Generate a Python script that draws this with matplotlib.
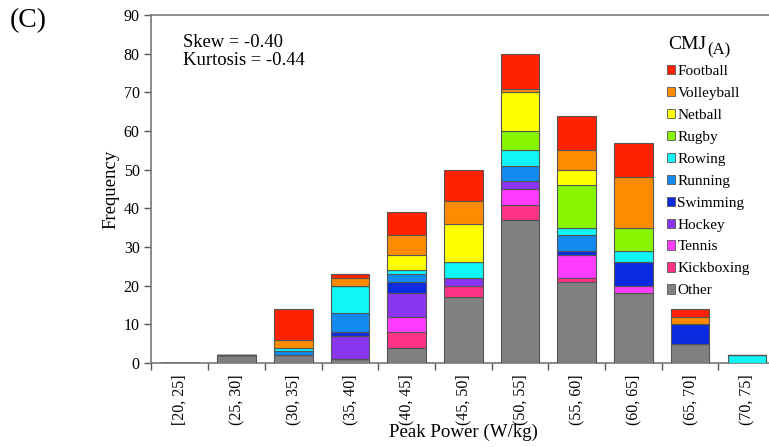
import matplotlib
matplotlib.use("Agg")
import matplotlib.pyplot as plt
import numpy as np
from matplotlib.patches import Patch

plt.rcParams['font.family'] = ['Liberation Serif', 'DejaVu Serif']

bins = ["[20, 25]", "(25, 30]", "(30, 35]", "(35, 40]", "(40, 45]", "(45, 50]",
        "(50, 55]", "(55, 60]", "(60, 65]", "(65, 70]", "(70, 75]"]

# Stacking order: bottom to top
sports = ["Other", "Kickboxing", "Tennis", "Hockey", "Swimming", "Running",
          "Rowing", "Rugby", "Netball", "Volleyball", "Football"]

other      = [0, 2, 2, 1, 4, 17, 37, 21, 18, 5, 0]
kickboxing = [0, 0, 0, 0, 4, 3, 4, 1, 0, 0, 0]
tennis     = [0, 0, 0, 0, 4, 0, 4, 6, 2, 0, 0]
hockey     = [0, 0, 0, 6, 6, 2, 2, 0, 0, 0, 0]
swimming   = [0, 0, 0, 1, 3, 0, 0, 1, 6, 5, 0]
running    = [0, 0, 1, 5, 2, 0, 4, 4, 0, 0, 0]
rowing     = [0, 0, 1, 7, 1, 4, 4, 2, 3, 0, 2]
rugby      = [0, 0, 0, 0, 0, 0, 5, 11, 6, 0, 0]
netball    = [0, 0, 0, 0, 4, 10, 10, 4, 0, 0, 0]
volleyball = [0, 0, 2, 2, 5, 6, 1, 5, 13, 2, 0]
football   = [0, 0, 8, 1, 6, 8, 9, 9, 9, 2, 0]

series = [other, kickboxing, tennis, hockey, swimming, running,
          rowing, rugby, netball, volleyball, football]

colors = {
    "Other": "#808080",
    "Kickboxing": "#FF3385",
    "Tennis": "#FF3BFF",
    "Hockey": "#8A35F0",
    "Swimming": "#0A2BE0",
    "Running": "#138AF0",
    "Rowing": "#10F5F5",
    "Rugby": "#88F500",
    "Netball": "#FFFF00",
    "Volleyball": "#FF8C00",
    "Football": "#FF2200",
}

fig = plt.figure(figsize=(7.69, 4.47), dpi=100)
ax = fig.add_axes([0.197, 0.188, 0.811, 0.778])

x = np.arange(len(bins))
bottom = np.zeros(len(bins))
for name, vals in zip(sports, series):
    vals = np.array(vals, dtype=float)
    ax.bar(x, vals, width=0.68, bottom=bottom, color=colors[name],
           edgecolor="#555555", linewidth=0.8, zorder=3)
    bottom += vals

ax.set_xlim(-0.5, len(bins) - 0.5)
ax.set_ylim(0, 90)
ax.set_yticks(np.arange(0, 91, 10))
ax.set_xticks(x)
ax.set_xticklabels(bins, rotation=90, fontsize=11.5)
ax.set_xticks(np.arange(-0.5, len(bins) - 0.5, 1), minor=True)
ax.tick_params(axis='x', which='major', length=0, pad=8)
ax.tick_params(axis='x', which='minor', length=5, width=1, color="#555555", direction='out')
ax.tick_params(axis='y', length=5, width=1, color="#555555", labelsize=11.5, direction='out')
for side in ['left', 'bottom', 'top', 'right']:
    ax.spines[side].set_color("#777777")
    ax.spines[side].set_linewidth(1.2)

ax.set_ylabel("Frequency", fontsize=13.5, labelpad=3)
ax.set_xlabel("Peak Power (W/kg)", fontsize=13.6, labelpad=-0.5)

ax.text(0.0505, 0.922, "Skew = -0.40", transform=ax.transAxes,
        fontsize=13.4, va='center', ha='left')
ax.text(0.0505, 0.871, "Kurtosis = -0.44", transform=ax.transAxes,
        fontsize=13.4, va='center', ha='left')

handles = [Patch(facecolor=colors[s], edgecolor="#555555", linewidth=0.6, label=s)
           for s in reversed(sports)]
leg = ax.legend(handles=handles, loc='upper left', bbox_to_anchor=(0.826, 0.857),
                frameon=False, fontsize=11, handlelength=0.55, handleheight=0.55,
                handletextpad=0.15, labelspacing=0.585, borderpad=0, borderaxespad=0)

title = ax.text(0.828, 0.917, "CMJ", transform=ax.transAxes,
                fontsize=14, va='center', ha='left')
ax.annotate("(A)", xy=(1, 0), xycoords=title, xytext=(1, -4),
            textcoords='offset points', fontsize=12, va='bottom', ha='left')

fig.text(0.013, 0.955, "(C)", fontsize=20, va='center', ha='left')

fig.savefig("out.png", dpi=100)
